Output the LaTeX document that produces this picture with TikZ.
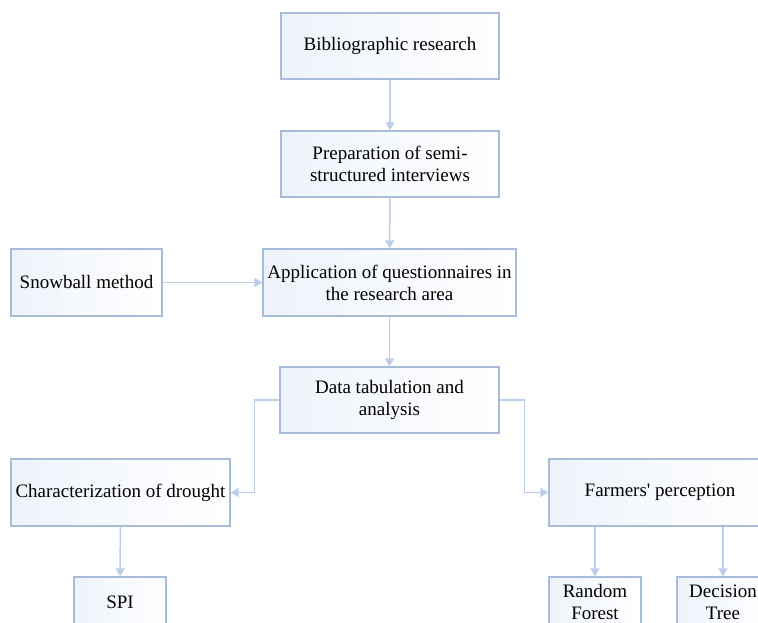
\documentclass[tikz,border=0pt]{standalone}
\usepackage{fontspec}
\setmainfont{Liberation Serif}
\usetikzlibrary{arrows.meta, positioning}
\definecolor{boxline}{RGB}{168,188,218}
\definecolor{boxfill}{RGB}{238,243,251}
\definecolor{arrline}{RGB}{188,206,232}

\begin{document}
\begin{tikzpicture}[x=1pt, y=-1pt]
\tikzset{box/.style={draw=boxline, line width=1.3pt, left color=boxfill, right color=white,
  align=center, inner sep=2pt, font=\fontsize{19}{22}\selectfont}}
\tikzset{arr/.style={draw=arrline, line width=1.5pt, -{Triangle[length=8pt, width=9pt]}}}
\useasboundingbox (0,0) rectangle (758,623);
\clip (0,0) rectangle (758,623);
% main column
\node [box, minimum width=218pt, minimum height=66pt] (biblio) at (390,46) {Bibliographic research};
\node [box, minimum width=218pt, minimum height=66pt] (prep) at (390,164) {Preparation of semi-\\structured interviews};
\node [box, minimum width=253pt, minimum height=67pt] (appl) at (389.5,282.5) {Application of questionnaires in\\the research area};
\node [box, minimum width=151pt, minimum height=67pt] (snow) at (86.5,282.5) {Snowball method};
\node [box, minimum width=219pt, minimum height=66pt] (data) at (389.5,400) {Data tabulation and\\analysis};
% branches
\node [box, minimum width=219pt, minimum height=67pt] (drought) at (120.5,492.5) {Characterization of drought};
\node [box, minimum width=222pt, minimum height=67pt] (farmers) at (660,492.5) {Farmers\textquotesingle{} perception};
\node [box, minimum width=92pt, minimum height=50pt] (spi) at (120,602) {SPI};
\node [box, minimum width=92pt, minimum height=50pt] (forest) at (595,602) {Random\\Forest};
\node [box, minimum width=92pt, minimum height=50pt] (tree) at (723,602) {Decision\\Tree};
% connectors
\draw [arr] (biblio) -- (prep);
\draw [arr] (prep) -- (appl);
\draw [arr] (snow) -- (appl);
\draw [arr] (appl) -- (data);
\draw [arr] (data.west) -- ++(-25,0) |- (drought.east);
\draw [arr] (data.east) -- ++(25,0) |- (farmers.west);
\draw [arr] (drought) -- (spi);
\draw [arr] (forest.north |- farmers.south) -- (forest.north);
\draw [arr] (tree.north |- farmers.south) -- (tree.north);
\end{tikzpicture}
\end{document}
